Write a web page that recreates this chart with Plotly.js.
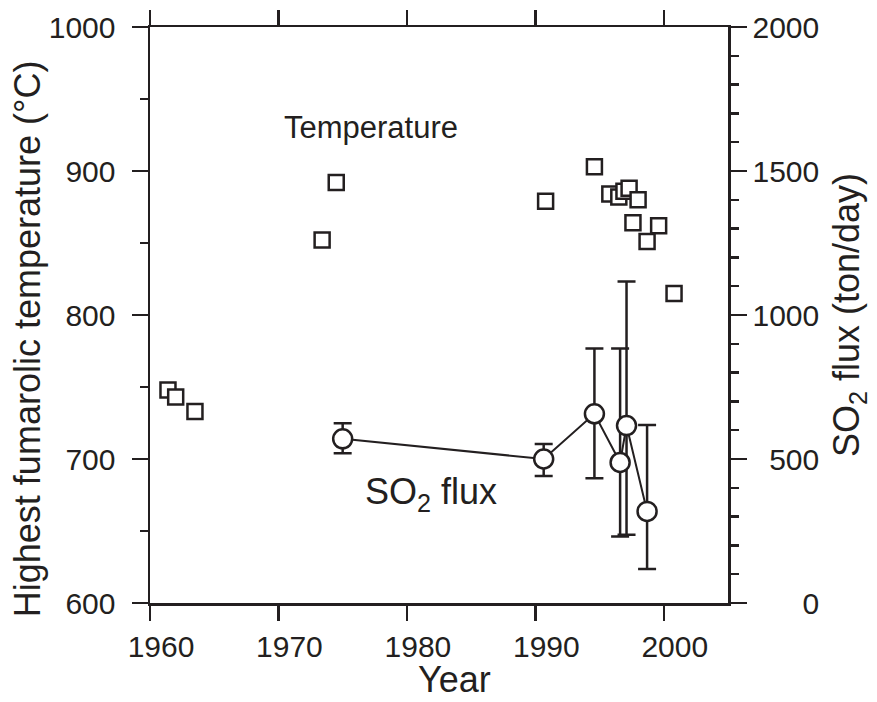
<!DOCTYPE html>
<html>
<head>
<meta charset="utf-8">
<script src="https://cdn.plot.ly/plotly-3.0.1.min.js"></script>
<style>
  html, body { margin: 0; padding: 0; background: #fff; }
  #chart { width: 877px; height: 702px; }
</style>
</head>
<body>
<div id="chart"></div>
<script>
// Highest fumarolic temperature (°C), left axis
const tempYears = [1961.4, 1962.0, 1963.5, 1973.4, 1974.5, 1990.8, 1994.6, 1995.8, 1996.5, 1996.9, 1997.3, 1998.0, 1997.6, 1999.6, 1998.7, 2000.8];
const tempValues = [748, 743, 733, 852, 892, 879, 903, 884, 882, 886, 888, 880, 864, 862, 851, 815];

// SO2 flux (ton/day), right axis
const so2Years = [1975.0, 1990.65, 1994.6, 1996.6, 1997.1, 1998.7];
const so2Values = [570, 500, 657, 488, 616, 318];
const so2Upper = [624, 552, 884, 884, 1116, 618];
const so2Lower = [520, 441, 433, 231, 237, 118];

// Tick labels
const xTicks = [1960, 1970, 1980, 1990, 2000];
const y2Ticks = [0, 500, 1000, 1500, 2000];
const y2TickText = ['\u2007\u2007\u20070', '\u2007500', '1000', '1500', '2000'];

const FONT = 'Liberation Sans, Arial, Helvetica, sans-serif';
const INK = '#231f20';

const errPlus = so2Upper.map((u, i) => u - so2Values[i]);
const errMinus = so2Lower.map((l, i) => so2Values[i] - l);

const traces = [
  {
    x: tempYears, y: tempValues, type: 'scatter', mode: 'markers',
    name: 'Temperature', yaxis: 'y',
    marker: { symbol: 'square', size: 15, color: '#ffffff', line: { color: INK, width: 2.5 } },
    cliponaxis: false, hoverinfo: 'x+y'
  },
  {
    x: so2Years, y: so2Values, type: 'scatter', mode: 'lines+markers',
    name: 'SO2 flux', yaxis: 'y2',
    line: { color: INK, width: 2 },
    marker: { symbol: 'circle', size: 19, color: '#ffffff', line: { color: INK, width: 2.5 } },
    error_y: { type: 'data', symmetric: false, array: errPlus, arrayminus: errMinus,
               color: INK, thickness: 2.5, width: 9 },
    cliponaxis: false, hoverinfo: 'x+y'
  }
];

const layout = {
  width: 877, height: 702,
  margin: { l: 150, r: 149, t: 27, b: 99 },
  paper_bgcolor: '#ffffff', plot_bgcolor: '#ffffff',
  showlegend: false,
  font: { family: FONT, color: INK, size: 30 },
  xaxis: {
    range: [1960, 2005], tickvals: xTicks, ticktext: xTicks.map(String),
    ticks: 'outside', ticklen: 15, tickwidth: 2.5, tickcolor: INK,
    ticklabelshift: 11,
    showline: true, linewidth: 2.5, linecolor: INK, mirror: 'ticks',
    showgrid: false, zeroline: false,
    tickfont: { size: 30, family: FONT, color: INK }
  },
  yaxis: {
    range: [600, 1000], dtick: 100, tick0: 600,
    ticks: 'outside', ticklen: 16, tickwidth: 2.5, tickcolor: INK,
    ticklabelstandoff: 10,
    minor: { dtick: 50, tick0: 600, ticks: 'outside', ticklen: 8, tickwidth: 2.5, tickcolor: INK, showgrid: false },
    showline: true, linewidth: 2.5, linecolor: INK,
    showgrid: false, zeroline: false,
    tickfont: { size: 30, family: FONT, color: INK }
  },
  yaxis2: {
    overlaying: 'y', side: 'right', range: [0, 2000],
    tickvals: y2Ticks, ticktext: y2TickText,
    ticks: 'outside', ticklen: 16, tickwidth: 2.5, tickcolor: INK,
    minor: { dtick: 100, tick0: 0, ticks: 'outside', ticklen: 8, tickwidth: 2.5, tickcolor: INK, showgrid: false },
    showline: true, linewidth: 2.5, linecolor: INK,
    showgrid: false, zeroline: false,
    tickfont: { size: 30, family: FONT, color: INK },
    title: { text: 'SO<sub>2</sub> flux (ton/day)', font: { size: 36, family: FONT, color: INK }, standoff: 16 }
  },
  annotations: [
    { x: -0.2128, y: 0.458, xref: 'paper', yref: 'paper', text: 'Highest fumarolic temperature (°C)',
      textangle: -90, showarrow: false, font: { size: 36, family: FONT, color: INK },
      xanchor: 'center', yanchor: 'middle' },
    { x: 0.527, y: -0.133, xref: 'paper', yref: 'paper', text: 'Year', showarrow: false,
      font: { size: 36, family: FONT, color: INK }, xanchor: 'center', yanchor: 'middle', borderpad: 0 },
    { x: 1977.2, y: 930, xref: 'x', yref: 'y', text: 'Temperature', showarrow: false,
      font: { size: 31, family: FONT, color: INK }, xanchor: 'center', yanchor: 'middle' },
    { x: 1981.9, y: 676, xref: 'x', yref: 'y', text: 'SO<sub>2</sub> flux', showarrow: false,
      font: { size: 36, family: FONT, color: INK }, xanchor: 'center', yanchor: 'middle' }
  ]
};

Plotly.newPlot('chart', traces, layout, { displayModeBar: false, staticPlot: true });
</script>
</body>
</html>
